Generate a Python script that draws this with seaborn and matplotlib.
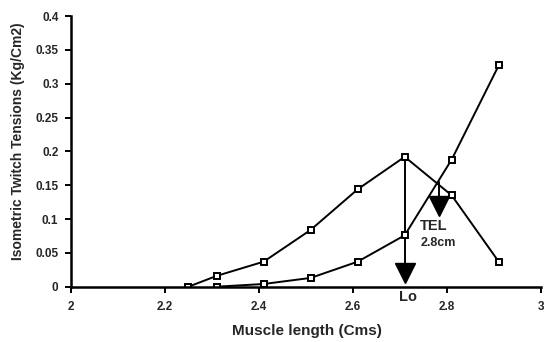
import matplotlib
matplotlib.use("Agg")
import matplotlib.pyplot as plt
import seaborn as sns
import pandas as pd

# Data
length_a = [2.25, 2.31, 2.41, 2.51, 2.61, 2.71, 2.81, 2.91]
tension_a = [0.0, 0.016, 0.037, 0.084, 0.144, 0.192, 0.135, 0.037]
length_b = [2.31, 2.41, 2.51, 2.61, 2.71, 2.81, 2.91]
tension_b = [0.0, 0.004, 0.013, 0.037, 0.076, 0.188, 0.327]

x_ticks = [2, 2.2, 2.4, 2.6, 2.8, 3]
x_tick_labels = ["2", "2.2", "2.4", "2.6", "2.8", "3"]
y_ticks = [0, 0.05, 0.1, 0.15, 0.2, 0.25, 0.3, 0.35, 0.4]
y_tick_labels = ["0", "0.05", "0.1", "0.15", "0.2", "0.25", "0.3", "0.35", "0.4"]

# annotation arrows (x, y_start, y_head)
lo_x, lo_top, lo_head = 2.71, 0.192, 0.02
tel_x, tel_top, tel_head = 2.783, 0.155, 0.12

sns.set_theme(style="white")
plt.rcParams['font.family'] = ['Liberation Sans', 'DejaVu Sans']

fig = plt.figure(figsize=(5.44, 3.42), dpi=100)
ax = fig.add_axes([0.1305, 0.1617, 0.864, 0.7913])

df_a = pd.DataFrame({"x": length_a, "y": tension_a})
df_b = pd.DataFrame({"x": length_b, "y": tension_b})

mk = dict(marker="s", markersize=5, markerfacecolor="white",
          markeredgecolor="black", markeredgewidth=1.4)
sns.lineplot(data=df_a, x="x", y="y", ax=ax, color="black", lw=1.4, **mk)
sns.lineplot(data=df_b, x="x", y="y", ax=ax, color="black", lw=1.4, **mk)

# arrows
ax.plot([lo_x, lo_x], [lo_top, lo_head], color="black", lw=1.4, zorder=1)
ax.plot([lo_x], [lo_head], marker="v", markersize=14.5, color="black", zorder=3)
ax.plot([tel_x, tel_x], [tel_top, tel_head], color="black", lw=1.4, zorder=1)
ax.plot([tel_x], [tel_head], marker="v", markersize=14, color="black", zorder=3)

ax.text(2.743, 0.090, "TEL", fontsize=10.5, fontweight="bold", va="center", ha="left")
ax.text(2.743, 0.064, "2.8cm", fontsize=9, fontweight="bold", va="center", ha="left")
ax.text(2.716, -0.0145, "Lo", fontsize=10.5, fontweight="bold", va="center", ha="center",
        clip_on=False)

ax.set_xlim(2, 3)
ax.set_ylim(0, 0.4)
ax.set_xticks(x_ticks)
ax.set_xticklabels(x_tick_labels)
ax.set_yticks(y_ticks)
ax.set_yticklabels(y_tick_labels)

for lab in ax.get_xticklabels() + ax.get_yticklabels():
    lab.set_fontweight("bold")
    lab.set_fontsize(8.5)

ax.tick_params(axis="x", direction="out", length=4, width=1.4, pad=6.5, color="black")
ax.tick_params(axis="y", direction="out", length=4, width=1.4, pad=5, color="black")
ax.tick_params(bottom=True, left=True)

for s in ["top", "right"]:
    ax.spines[s].set_visible(False)
for s in ["left", "bottom"]:
    ax.spines[s].set_color("black")
    ax.spines[s].set_linewidth(1.8)

ax.set_xlabel("Muscle length (Cms)", fontsize=11, fontweight="bold")
ax.xaxis.set_label_coords(0.503, -0.138)
ax.set_ylabel("Isometric Twitch Tensions (Kg/Cm2)", fontsize=10, fontweight="bold")
ax.yaxis.set_label_coords(-0.097, 0.539)
ax.grid(False)

fig.savefig("out.png", dpi=100)
